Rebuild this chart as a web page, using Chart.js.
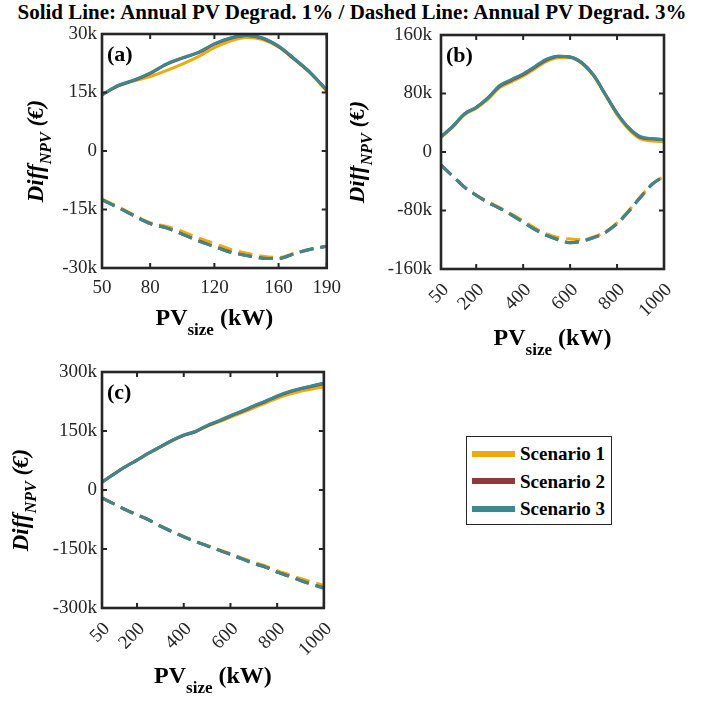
<!DOCTYPE html>
<html>
<head>
<meta charset="utf-8">
<script src="https://cdn.jsdelivr.net/npm/chart.js@4.4.0/dist/chart.umd.min.js"></script>
<style>
    body { margin: 0; background: #fff; width: 704px; height: 702px; position: relative; overflow: hidden; font-family: 'Liberation Serif'; }
    canvas { position: absolute; }
    #title { position: absolute; top: 0; left: 0; width: 704px; text-align: center; font-family: 'Liberation Serif'; font-weight: bold; font-size: 21px; line-height: 24px; color: #000; white-space: nowrap; }
    #legend { position: absolute; left: 466px; top: 436px; width: 144px; height: 87px; border: 1.5px solid #262626; background: #fff; }
    #legend .item { position: absolute; left: 5px; height: 28px; line-height: 28px; font-family: 'Liberation Serif'; font-weight: bold; font-size: 19px; color: #000; white-space: nowrap; }
    #legend .swatch { display: inline-block; width: 43px; height: 6px; vertical-align: middle; margin-right: 5px; position: relative; top: -2px; }
</style>
</head>
<body>
<div id="title">Solid Line: Annual PV Degrad. 1% / Dashed Line: Annual PV Degrad. 3%</div>
<canvas id="chartA" width="350" height="340" style="left:0;top:0"></canvas>
<canvas id="chartB" width="354" height="360" style="left:350px;top:0"></canvas>
<canvas id="chartC" width="350" height="362" style="left:0;top:340px"></canvas>
<div id="legend"></div>
<script>
// values in k€
const scenarioNames = ['Scenario 1', 'Scenario 2', 'Scenario 3'];

// panel (a)
const xA = [50, 60, 70, 80, 90, 100, 110, 120, 130, 140, 150, 160, 170, 180, 190];
const s1SolidA = [14.4, 16.7, 18.0, 19.1, 20.6, 22.3, 24.2, 26.5, 28.2, 29.1, 28.6, 26.7, 23.4, 19.8, 15.3];
const s2SolidA = [14.4, 16.7, 18.1, 19.9, 22.2, 23.8, 25.2, 27.4, 28.9, 29.6, 28.9, 26.8, 23.5, 20.0, 15.6];
const s3SolidA = [14.4, 16.8, 18.2, 20.0, 22.3, 23.9, 25.3, 27.5, 29.0, 29.7, 29.0, 26.9, 23.6, 20.0, 15.6];
const s1DashA = [-12.3, -14.3, -16.4, -18.4, -19.3, -20.6, -22.3, -23.7, -25.2, -26.2, -27.0, -27.3, -26.2, -25.1, -24.4];
const s2DashA = [-12.5, -14.5, -16.6, -18.6, -19.7, -21.3, -23.0, -24.5, -25.9, -26.8, -27.5, -27.6, -26.3, -25.2, -24.4];
const s3DashA = [-12.5, -14.5, -16.6, -18.6, -19.7, -21.3, -23.1, -24.5, -26.0, -26.8, -27.5, -27.6, -26.3, -25.2, -24.4];
const xTicksA = [50, 80, 120, 160, 190];
const yTicksA = [-30, -15, 0, 15, 30];

// panels (b) and (c) share the PV size grid
const xBC = [50, 100, 150, 200, 250, 300, 350, 400, 450, 500, 550, 600, 650, 700, 750, 800, 850, 900, 950, 1000];

const s1SolidB = [20, 34, 51, 60, 72, 88, 96, 104, 114, 124, 129, 129, 121, 104, 78, 51, 31, 18, 15, 14];
const s2SolidB = [21, 35, 52, 61, 74, 90, 98, 106, 116, 126, 131, 130, 122, 105, 79, 53, 33, 20, 18, 17];
const s3SolidB = [21, 35, 52, 61, 74, 91, 99, 107, 117, 127, 131, 130, 122, 105, 79, 53, 33, 21, 18, 17];
const s1DashB = [-18, -33, -48, -59, -68, -76, -85, -94, -104, -112, -117, -119, -120, -116, -109, -97, -80, -61, -44, -33];
const s2DashB = [-18, -33, -48, -59, -69, -77, -86, -96, -106, -114, -120, -124, -122, -117, -110, -98, -81, -62, -44, -33];
const s3DashB = [-18, -33, -48, -59, -69, -77, -86, -96, -106, -114, -120, -124, -122, -117, -110, -98, -81, -62, -44, -33];
const xTicksB = [50, 200, 400, 600, 800, 1000];
const yTicksB = [-160, -80, 0, 80, 160];

const s1SolidC = [20, 40, 59, 76, 93, 109, 125, 139, 149, 162, 173, 185, 197, 209, 221, 233, 243, 251, 257, 262];
const s2SolidC = [20, 40, 59, 76, 94, 110, 126, 139, 148, 163, 175, 188, 200, 213, 225, 238, 249, 257, 264, 270];
const s3SolidC = [20, 40, 59, 76, 94, 110, 126, 140, 149, 164, 176, 189, 201, 214, 226, 239, 250, 258, 265, 272];
const s1DashC = [-20, -35, -50, -63, -76, -91, -105, -118, -130, -141, -152, -162, -173, -184, -193, -205, -215, -225, -234, -243];
const s2DashC = [-20, -35, -50, -63, -76, -92, -106, -119, -131, -142, -153, -164, -175, -187, -196, -209, -219, -230, -240, -249];
const s3DashC = [-20, -35, -50, -63, -76, -92, -106, -119, -131, -142, -153, -164, -175, -187, -196, -209, -219, -230, -240, -250];
const xTicksC = [50, 200, 400, 600, 800, 1000];
const yTicksC = [-300, -150, 0, 150, 300];

const colors = ['#EDAB0B', '#8E3A3C', '#3D8790'];
const serif = "'Liberation Serif'";

function drawParts(ctx, parts, cx, baseline) {
    // parts: [text, font, dy]
    let total = 0;
    parts.forEach(p => { ctx.font = p[1]; total += ctx.measureText(p[0]).width; });
    let x = cx - total / 2;
    parts.forEach(p => {
        ctx.font = p[1];
        ctx.fillText(p[0], x, baseline + p[2]);
        x += ctx.measureText(p[0]).width;
    });
}

const panelFrame = {
    id: 'panelFrame',
    afterDraw(chart, args, opts) {
        const { ctx, chartArea: a } = chart;
        const xs = chart.scales.x, ys = chart.scales.y;
        ctx.save();
        ctx.strokeStyle = '#262626';
        ctx.lineWidth = 2;
        ctx.beginPath();
        xs.ticks.forEach(t => {
            const px = xs.getPixelForValue(t.value);
            ctx.moveTo(px, a.bottom); ctx.lineTo(px, a.bottom - 5);
            ctx.moveTo(px, a.top); ctx.lineTo(px, a.top + 5);
        });
        ys.ticks.forEach(t => {
            const py = ys.getPixelForValue(t.value);
            ctx.moveTo(a.left, py); ctx.lineTo(a.left + 5, py);
            ctx.moveTo(a.right, py); ctx.lineTo(a.right - 5, py);
        });
        ctx.stroke();
        ctx.lineWidth = 2.6;
        ctx.strokeRect(a.left, a.top, a.right - a.left, a.bottom - a.top);

        ctx.fillStyle = '#000';
        ctx.textAlign = 'left';
        ctx.textBaseline = 'alphabetic';
        ctx.font = 'bold 22px ' + serif;
        ctx.fillText(opts.letter, a.left + 5, a.top + 27);

        drawParts(ctx, [
            ['PV', 'bold 24px ' + serif, 0],
            ['size', 'bold 17px ' + serif, 10],
            [' (kW)', 'bold 24px ' + serif, 0]
        ], (a.left + a.right) / 2, a.bottom + opts.xLabelGap);

        ctx.translate(opts.yLabelX, (a.top + a.bottom) / 2 + opts.yLabelShift);
        ctx.rotate(-Math.PI / 2);
        drawParts(ctx, [
            ['Diff', 'italic bold 23px ' + serif, 0],
            ['NPV', 'italic bold 16px ' + serif, 8],
            [' (€)', 'italic bold 23px ' + serif, 0]
        ], 0, 0);
        ctx.restore();
    }
};

function series(xv, yv) {
    return xv.map((x, i) => ({ x: x, y: yv[i] }));
}

function makePanel(id, cfg) {
    const solids = [cfg.s1Solid, cfg.s2Solid, cfg.s3Solid];
    const dashes = [cfg.s1Dash, cfg.s2Dash, cfg.s3Dash];
    const datasets = [];
    [0, 1, 2].forEach(i => {
        datasets.push({
            label: scenarioNames[i],
            data: series(cfg.x, solids[i]),
            borderColor: colors[i],
            borderWidth: 3,
            pointRadius: 0,
            cubicInterpolationMode: 'monotone',
            order: 2 - i
        });
        datasets.push({
            label: scenarioNames[i] + ' (3%)',
            data: series(cfg.x, dashes[i]),
            borderColor: colors[i],
            borderWidth: 3,
            borderDash: [14, 7],
            pointRadius: 0,
            cubicInterpolationMode: 'monotone',
            order: 2 - i
        });
    });

    return new Chart(document.getElementById(id), {
        type: 'line',
        data: { datasets: datasets },
        plugins: [panelFrame],
        options: {
            responsive: false,
            animation: false,
            devicePixelRatio: 1,
            layout: { padding: { left: 0, top: cfg.padTop, right: cfg.padRight, bottom: 0 } },
            plugins: {
                legend: { display: false },
                tooltip: { enabled: false },
                panelFrame: { letter: cfg.letter, xLabelGap: cfg.xLabelGap, yLabelX: cfg.yLabelX, yLabelShift: cfg.yLabelShift || 0 }
            },
            scales: {
                x: {
                    type: 'linear',
                    min: cfg.xTicks[0],
                    max: cfg.xTicks[cfg.xTicks.length - 1],
                    grid: { display: false, drawTicks: false },
                    border: { display: false },
                    afterBuildTicks: s => { s.ticks = cfg.xTicks.map(v => ({ value: v })); },
                    afterFit: s => { s.height = cfg.xAxisHeight; },
                    ticks: {
                        autoSkip: false,
                        color: '#262626',
                        padding: cfg.xTickPad,
                        labelOffset: cfg.rotation ? 5 : 0,
                        minRotation: cfg.rotation,
                        maxRotation: cfg.rotation,
                        font: { family: serif, size: 19 },
                        callback: v => String(v)
                    }
                },
                y: {
                    type: 'linear',
                    min: cfg.yTicks[0],
                    max: cfg.yTicks[cfg.yTicks.length - 1],
                    grid: { display: false, drawTicks: false },
                    border: { display: false },
                    afterBuildTicks: s => { s.ticks = cfg.yTicks.map(v => ({ value: v })); },
                    afterFit: s => { s.width = cfg.yAxisWidth; },
                    ticks: {
                        color: '#262626',
                        padding: cfg.yTickPad,
                        font: { family: serif, size: 19 },
                        callback: v => v === 0 ? '0' : v + 'k'
                    }
                }
            }
        }
    });
}

makePanel('chartA', {
    letter: '(a)', x: xA, xTicks: xTicksA, yTicks: yTicksA,
    s1Solid: s1SolidA, s2Solid: s2SolidA, s3Solid: s3SolidA,
    s1Dash: s1DashA, s2Dash: s2DashA, s3Dash: s3DashA,
    padTop: 34, padRight: 23, yAxisWidth: 102, xAxisHeight: 72,
    xTickPad: 9, yTickPad: 5, rotation: 0, xLabelGap: 57, yLabelX: 43
});

makePanel('chartB', {
    letter: '(b)', x: xBC, xTicks: xTicksB, yTicks: yTicksB,
    s1Solid: s1SolidB, s2Solid: s2SolidB, s3Solid: s3SolidB,
    s1Dash: s1DashB, s2Dash: s2DashB, s3Dash: s3DashB,
    padTop: 35, padRight: 40, yAxisWidth: 91, xAxisHeight: 91,
    xTickPad: 10, yTickPad: 9, rotation: 45, xLabelGap: 76, yLabelX: 14
});

makePanel('chartC', {
    letter: '(c)', x: xBC, xTicks: xTicksC, yTicks: yTicksC,
    s1Solid: s1SolidC, s2Solid: s2SolidC, s3Solid: s3SolidC,
    s1Dash: s1DashC, s2Dash: s2DashC, s3Dash: s3DashC,
    padTop: 32, padRight: 23, yAxisWidth: 102, xAxisHeight: 94,
    xTickPad: 10, yTickPad: 5, rotation: 45, xLabelGap: 75, yLabelX: 28, yLabelShift: 10
});

// legend
const legend = document.getElementById('legend');
scenarioNames.forEach((name, i) => {
    const item = document.createElement('div');
    item.className = 'item';
    item.style.top = (3 + i * 27.5) + 'px';
    const sw = document.createElement('span');
    sw.className = 'swatch';
    sw.style.background = colors[i];
    item.appendChild(sw);
    item.appendChild(document.createTextNode(name));
    legend.appendChild(item);
});
</script>
</body>
</html>
